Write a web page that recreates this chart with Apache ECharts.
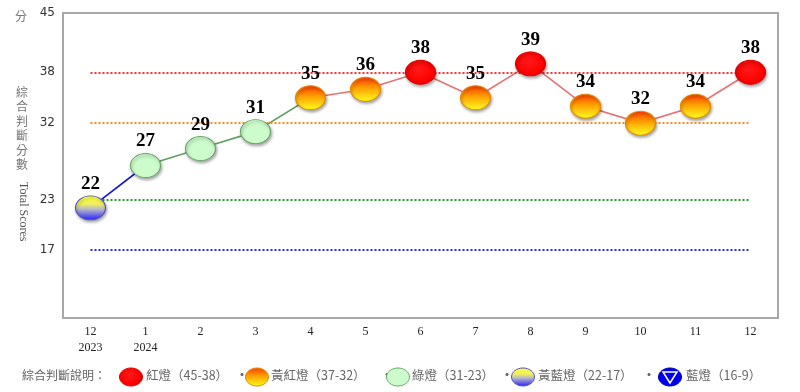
<!DOCTYPE html>
<html><head><meta charset="utf-8">
<script src="https://cdn.jsdelivr.net/npm/echarts@6/dist/echarts.min.js"></script>
<style>html,body{margin:0;padding:0;background:#fff}#c{width:800px;height:392px}</style>
</head><body><div id="c"></div>
<script>
var months = ['12\n2023','1\n2024','2','3','4','5','6','7','8','9','10','11','12'];
var scores = [22,27,29,31,35,36,38,35,39,34,32,34,38];
var yTicks = [45,38,32,23,17];
var thresholds = [38,32,23,17];
var legendItems = ['紅燈（45-38）','黃紅燈（37-32）','綠燈（31-23）','黃藍燈（22-17）','藍燈（16-9）'];

function lg(stops){return {type:'linear',x:0,y:0,x2:0,y2:1,colorStops:stops};}
var styles = {
  red: {color:{type:'radial',x:0.45,y:0.4,r:0.6,colorStops:[{offset:0,color:'#ff1a1a'},{offset:0.8,color:'#ff0000'},{offset:1,color:'#e00000'}]}, borderColor:'#e00000'},
  yr: {color:lg([{offset:0,color:'#ff3a00'},{offset:0.45,color:'#ffa000'},{offset:1,color:'#ffff20'}]), borderColor:'#e08a00'},
  green: {color:'#ccfccc', borderColor:'#6aa86a'},
  yb: {color:lg([{offset:0,color:'#ffff30'},{offset:0.35,color:'#eeee60'},{offset:0.55,color:'#b8b8c8'},{offset:1,color:'#2020ff'}]), borderColor:'#5050c0'},
  blue: {color:'#0000ee', borderColor:'#0000aa'}
};
function light(v){ if(v>=38) return 'red'; if(v>=32) return 'yr'; if(v>=23) return 'green'; if(v>=17) return 'yb'; return 'blue'; }
var lineColors = {yb:'#1515d5', green:'#5f9f5f', red:'#e87272', blue:'#1515d5'};
var lineGroups = ['yb','green','red'];
function groupOf(v){ var l = light(v); return (l==='yr'||l==='red')?'red':l; }

var segSeries = lineGroups.map(function(g){
  var d = scores.map(function(){return null;});
  for (var i=0;i<scores.length-1;i++){
    if (groupOf(scores[i])===g){ d[i]=scores[i]; d[i+1]=scores[i+1]; }
  }
  return {type:'line', data:d, symbol:'none', connectNulls:false, z:2,
    lineStyle:{color:lineColors[g], width:1.6}, silent:true};
});

var markColors = ['#ff3030','#ff8a1a','#22a022','#3030e0'];
var markData = thresholds.map(function(t,i){
  return [{coord:[0,t], lineStyle:{color:markColors[i]}},{coord:[months.length-1,t]}];
});

var ballData = scores.map(function(v){
  var s = styles[light(v)];
  return {value:v, itemStyle:{color:s.color, borderColor:s.borderColor, borderWidth:1, opacity:1,
    shadowColor:'rgba(0,0,0,0.35)', shadowBlur:3, shadowOffsetX:1, shadowOffsetY:2}};
});

var chart = echarts.init(document.getElementById('c'), null, {renderer:'canvas'});

var legendGraphics = [];
legendGraphics.push({type:'text', left:22, top:369, style:{text:'綜合判斷說明：', font:'12px "Noto Sans CJK TC"', fill:'#666'}});
var lx = [131,257,398,523,670];
var tx = [146,271,412,538,686];
var sepX = [236,381,501,643];
var lkeys = ['red','yr','green','yb','blue'];
lkeys.forEach(function(k,i){
  var s = styles[k];
  legendGraphics.push({type:'ellipse', shape:{cx:lx[i], cy:377, rx:11.5, ry:9}, style:{fill:s.color, stroke:s.borderColor, lineWidth:1}, z:10});
  if (k==='blue'){
    legendGraphics.push({type:'polygon', shape:{points:[[lx[i]-7,372],[lx[i]+7,372],[lx[i],383]]}, style:{fill:'none', stroke:'#fff', lineWidth:1.5}, z:11});
  }
  legendGraphics.push({type:'text', left:tx[i], top:369, style:{text:legendItems[i], font:'12.5px "Noto Sans CJK TC"', fill:'#666'}, z:10});
});
sepX.forEach(function(x){
  legendGraphics.push({type:'text', left:x, top:369, style:{text:'·', font:'bold 12px "Noto Sans CJK TC"', fill:'#666'}});
});

chart.setOption({
  animation:false,
  backgroundColor:'#fff',
  grid:{left:63, right:22, top:13, bottom:74, show:true, borderColor:'#a8a8a8', borderWidth:2, backgroundColor:'#fff'},
  xAxis:{type:'category', data:months, boundaryGap:true,
    axisLine:{show:false}, axisTick:{show:false}, splitLine:{show:false},
    axisLabel:{color:'#222', fontFamily:'"Liberation Serif","Times New Roman",serif', fontSize:12, margin:6, lineHeight:16, interval:0}},
  yAxis:{type:'value', min:9, max:45, interval:1,
    axisLine:{show:false}, axisTick:{show:false}, splitLine:{show:false},
    axisLabel:{customValues:yTicks, color:'#333', fontFamily:'"DejaVu Sans",Verdana,sans-serif', fontSize:12, margin:8}},
  graphic:[
    {type:'text', left:15, top:10, style:{text:'分', font:'12px "Noto Sans CJK TC"', fill:'#777'}},
    {type:'text', left:16, top:85, style:{text:'綜\n合\n判\n斷\n分\n數', font:'12px "Noto Sans CJK TC"', fill:'#777', lineHeight:14.5}},
    {type:'text', x:29, y:182, rotation:-Math.PI/2, style:{text:'Total Scores', font:'12px "Liberation Serif","Times New Roman",serif', fill:'#555'}}
  ].concat(legendGraphics),
  series:[
    {type:'line', data:[], markLine:{silent:true, symbol:'none', label:{show:false},
      lineStyle:{type:[2,2], width:2}, data:markData}, z:1}
  ].concat(segSeries).concat([
    {type:'scatter', data:ballData, symbol:'circle', symbolSize:[30,24], z:5,
      itemStyle:{opacity:1},
      label:{show:true, position:'top', distance:2, color:'#000', fontWeight:'bold', fontSize:19,
        fontFamily:'"Liberation Serif","Times New Roman",serif'}}
  ])
});
</script></body></html>
